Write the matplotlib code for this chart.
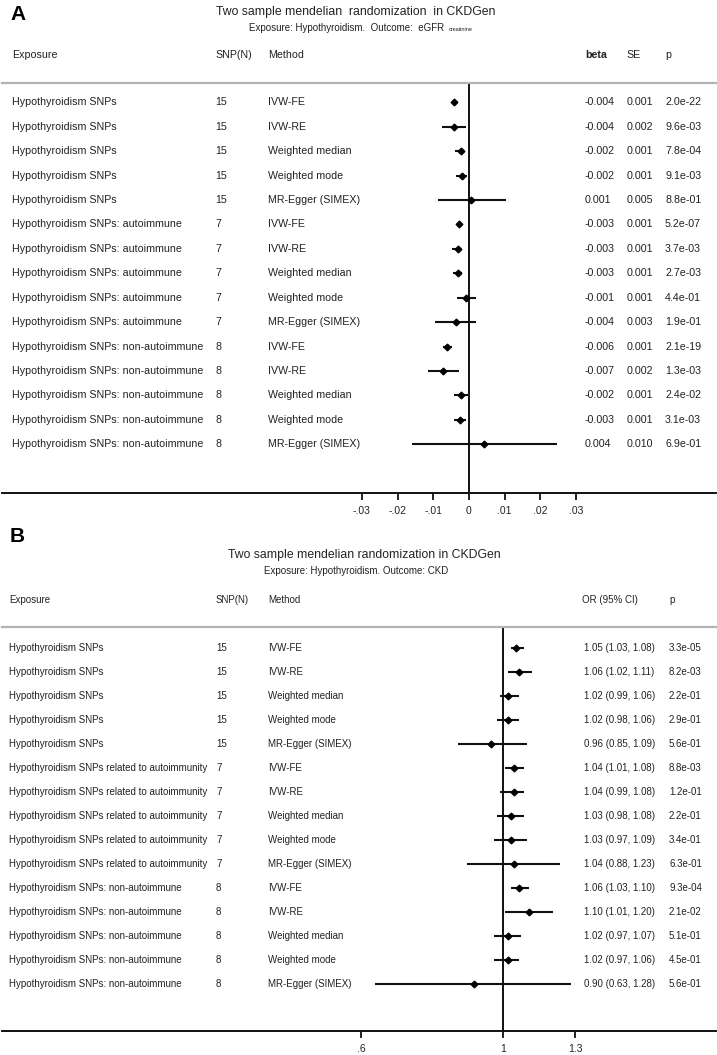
import matplotlib
matplotlib.use("Agg")
import matplotlib.pyplot as plt
import matplotlib.transforms as mtransforms
import numpy as np

plt.rcParams['font.family'] = ['Liberation Sans', 'DejaVu Sans']

# ---------------- data: panel A (eGFR creatinine, beta) ----------------
exposure_a = (["Hypothyroidism SNPs"] * 5
              + ["Hypothyroidism SNPs: autoimmune"] * 5
              + ["Hypothyroidism SNPs: non-autoimmune"] * 5)
snp_a = ["15"] * 5 + ["7"] * 5 + ["8"] * 5
methods_a = ["IVW-FE", "IVW-RE", "Weighted median", "Weighted mode", "MR-Egger (SIMEX)"] * 3
beta_a = [-0.0043, -0.0043, -0.0022, -0.0019, 0.0007,
          -0.0027, -0.0032, -0.0032, -0.0008, -0.0037,
          -0.0061, -0.0072, -0.0022, -0.0026, 0.0042]
lo_a = [-0.0048, -0.0077, -0.0038, -0.0036, -0.0086,
        -0.0031, -0.0047, -0.0045, -0.0035, -0.0095,
        -0.0074, -0.0116, -0.0041, -0.0042, -0.0161]
hi_a = [-0.0038, -0.0008, -0.0014, -0.0006, 0.0104,
        -0.0023, -0.0022, -0.0020, 0.0019, 0.0021,
        -0.0049, -0.0029, -0.0004, -0.0009, 0.0246]
beta_txt_a = ["-0.004", "-0.004", "-0.002", "-0.002", "0.001",
              "-0.003", "-0.003", "-0.003", "-0.001", "-0.004",
              "-0.006", "-0.007", "-0.002", "-0.003", "0.004"]
se_txt_a = ["0.001", "0.002", "0.001", "0.001", "0.005",
            "0.001", "0.001", "0.001", "0.001", "0.003",
            "0.001", "0.002", "0.001", "0.001", "0.010"]
p_txt_a = ["2.0e-22", "9.6e-03", "7.8e-04", "9.1e-03", "8.8e-01",
           "5.2e-07", "3.7e-03", "2.7e-03", "4.4e-01", "1.9e-01",
           "2.1e-19", "1.3e-03", "2.4e-02", "3.1e-03", "6.9e-01"]
ticks_a = [-0.03, -0.02, -0.01, 0, 0.01, 0.02, 0.03]
ticklabels_a = ["-.03", "-.02", "-.01", "0", ".01", ".02", ".03"]

# ---------------- data: panel B (CKD, odds ratio) ----------------
exposure_b = (["Hypothyroidism SNPs"] * 5
              + ["Hypothyroidism SNPs related to autoimmunity"] * 5
              + ["Hypothyroidism SNPs: non-autoimmune"] * 5)
snp_b = ["15"] * 5 + ["7"] * 5 + ["8"] * 5
methods_b = ["IVW-FE", "IVW-RE", "Weighted median", "Weighted mode", "MR-Egger (SIMEX)"] * 3
or_b = [1.05, 1.06, 1.02, 1.02, 0.96,
        1.04, 1.04, 1.03, 1.03, 1.04,
        1.06, 1.10, 1.02, 1.02, 0.90]
lo_b = [1.03, 1.02, 0.99, 0.98, 0.85,
        1.01, 0.99, 0.98, 0.97, 0.88,
        1.03, 1.01, 0.97, 0.97, 0.63]
hi_b = [1.08, 1.11, 1.06, 1.06, 1.09,
        1.08, 1.08, 1.08, 1.09, 1.23,
        1.10, 1.20, 1.07, 1.06, 1.28]
p_txt_b = ["3.3e-05", "8.2e-03", "2.2e-01", "2.9e-01", "5.6e-01",
           "8.8e-03", "1.2e-01", "2.2e-01", "3.4e-01", "6.3e-01",
           "9.3e-04", "2.1e-02", "5.1e-01", "4.5e-01", "5.6e-01"]
ticks_b = [0.6, 1, 1.3]
ticklabels_b = [".6", "1", "1.3"]

# ---------------- layout ----------------
W, H = 717, 1055
fig = plt.figure(figsize=(W / 100, H / 100), dpi=100)
TXT = "#222222"


def fx(x):
    return x / W


def fy(y):
    return 1 - y / H


def make_axes(left, right, top, bottom):
    return fig.add_axes([fx(left), fy(bottom), (right - left) / W, (bottom - top) / H])


def style_axes(ax):
    for s in ("left", "right"):
        ax.spines[s].set_visible(False)
    ax.spines["top"].set_color("#b3b3b3")
    ax.spines["top"].set_linewidth(1.6)
    ax.spines["bottom"].set_color("#111111")
    ax.spines["bottom"].set_linewidth(1.4)
    ax.set_yticks([])
    ax.tick_params(axis="x", which="major", direction="out", length=5, width=1.3,
                   labelsize=7.5, pad=4.5, colors="#111111", labelcolor=TXT)
    ax.tick_params(axis="x", which="minor", length=0)
    ax.patch.set_alpha(0)


rows = np.arange(1, 16)

# ---------- Panel A ----------
axA_l, axA_r, axA_t, axA_b = 2, 716, 82.5, 492.7
rowA0, rowA_sp = 102.3, 24.43
zeroA, scaleA = 469.0, 3570.0  # px at 0, px per unit
axA = make_axes(axA_l, axA_r, axA_t, axA_b)
axA.set_xlim((axA_l - zeroA) / scaleA, (axA_r - zeroA) / scaleA)
axA.set_ylim(15 + (axA_b - (rowA0 + 14 * rowA_sp)) / rowA_sp, 1 - (rowA0 - axA_t) / rowA_sp)
style_axes(axA)
axA.axvline(0, color="#111111", lw=1.4, zorder=1)
axA.hlines(rows, lo_a, hi_a, color="#111111", lw=1.5, zorder=2)
axA.plot(beta_a, rows, "D", ms=3.4, color="black", zorder=3)
axA.set_xticks(ticks_a)
axA.set_xticklabels(ticklabels_a)

trA = mtransforms.blended_transform_factory(fig.transFigure, axA.transData)
fs_a = 7.7
for i, r in enumerate(rows):
    kw = dict(transform=trA, va="center", ha="left", fontsize=fs_a, color=TXT)
    axA.text(fx(12), r, exposure_a[i], **kw)
    axA.text(fx(215), r, snp_a[i], **kw)
    axA.text(fx(268), r, methods_a[i], **kw)
    axA.text(fx(585), r, beta_txt_a[i], **kw)
    axA.text(fx(627), r, se_txt_a[i], **kw)
    axA.text(fx(665), r, p_txt_a[i], **kw)

fig.text(fx(10), fy(14), "A", fontsize=15, fontweight="bold", ha="left", va="center", color="black")
fig.text(fx(356), fy(12), "Two sample mendelian  randomization  in CKDGen",
         fontsize=8.8, ha="center", va="center", color=TXT)
fig.text(fx(249), fy(28), "Exposure: Hypothyroidism.  Outcome:  eGFR",
         fontsize=7.0, ha="left", va="center", color=TXT)
fig.text(fx(449), fy(29.5), "creatinine", fontsize=4.0, ha="left", va="center", color=TXT)
hdr = dict(fontsize=fs_a, va="center", ha="left", color=TXT)
fig.text(fx(12), fy(55), "Exposure", **hdr)
fig.text(fx(215), fy(55), "SNP(N)", **hdr)
fig.text(fx(268), fy(55), "Method", **hdr)
fig.text(fx(585), fy(55), "beta", fontweight="bold", **hdr)
fig.text(fx(626), fy(55), "SE", **hdr)
fig.text(fx(665), fy(55), "p", **hdr)

# ---------- Panel B ----------
axB_l, axB_r, axB_t, axB_b = 2, 716, 627.3, 1030.7
rowB0, rowB_sp = 647.7, 24.02
oneB, scaleB = 502.7, 277.0  # px at OR=1, px per ln unit
axB = make_axes(axB_l, axB_r, axB_t, axB_b)
axB.set_xscale("log")
axB.set_xlim(np.exp((axB_l - oneB) / scaleB), np.exp((axB_r - oneB) / scaleB))
axB.set_ylim(15 + (axB_b - (rowB0 + 14 * rowB_sp)) / rowB_sp, 1 - (rowB0 - axB_t) / rowB_sp)
style_axes(axB)
axB.axvline(1, color="#111111", lw=1.4, zorder=1)
axB.hlines(rows, lo_b, hi_b, color="#111111", lw=1.5, zorder=2)
axB.plot(or_b, rows, "D", ms=3.4, color="black", zorder=3)
axB.set_xticks(ticks_b)
axB.set_xticklabels(ticklabels_b)
axB.xaxis.set_minor_locator(matplotlib.ticker.NullLocator())

trB = mtransforms.blended_transform_factory(fig.transFigure, axB.transData)
fs_b = 7.0
for i, r in enumerate(rows):
    kw = dict(transform=trB, va="center", ha="left", fontsize=fs_b, color=TXT)
    axB.text(fx(9), r, exposure_b[i], **kw)
    axB.text(fx(216), r, snp_b[i], **kw)
    axB.text(fx(268), r, methods_b[i], **kw)
    axB.text(fx(584), r, f"{or_b[i]:.2f} ({lo_b[i]:.2f}, {hi_b[i]:.2f})", **kw)
    axB.text(fx(669), r, p_txt_b[i], **kw)

fig.text(fx(10), fy(537), "B", fontsize=15, fontweight="bold", ha="left", va="center", color="black")
fig.text(fx(364), fy(555), "Two sample mendelian randomization in CKDGen",
         fontsize=8.8, ha="center", va="center", color=TXT)
fig.text(fx(356), fy(571), "Exposure: Hypothyroidism. Outcome: CKD",
         fontsize=7.0, ha="center", va="center", color=TXT)
hdrb = dict(fontsize=fs_b, va="center", ha="left", color=TXT)
fig.text(fx(9), fy(600), "Exposure", **hdrb)
fig.text(fx(216), fy(600), "SNP(N)", **hdrb)
fig.text(fx(268), fy(600), "Method", **hdrb)
fig.text(fx(582), fy(600), "OR (95% CI)", **hdrb)
fig.text(fx(669), fy(600), "p", **hdrb)

fig.savefig("out.png", dpi=100, facecolor="white")
